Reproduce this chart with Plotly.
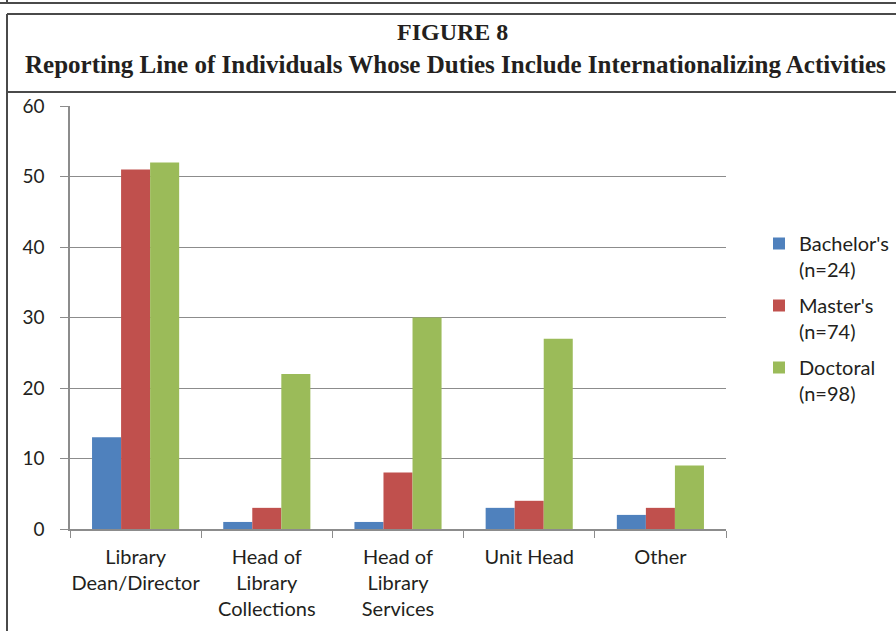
import plotly.graph_objects as go

categories = ["Library<br>Dean/Director", "Head of<br>Library<br>Collections",
              "Head of<br>Library<br>Services", "Unit Head", "Other"]
series_names = ["Bachelor's<br>(n=24)", "Master's<br>(n=74)", "Doctoral<br>(n=98)"]
bachelors = [13, 1, 1, 3, 2]
masters = [51, 3, 8, 4, 3]
doctoral = [52, 22, 30, 27, 9]
colors = ["#4F81BD", "#C0504D", "#9BBB59"]

W, H = 896, 631
# plot area in pixels
L, R, T, B = 70, 726, 106, 529


def px_x(x):
    return (x - L) / (R - L)


def px_y(y):
    return (B - y) / (B - T)


fig = go.Figure()
for i, (name, vals) in enumerate(zip(series_names, [bachelors, masters, doctoral])):
    fig.add_trace(go.Bar(x=categories, y=vals, name=name, marker_color=colors[i],
                         marker_line_width=0, legendgroup=str(i)))

# рамка вокруг рисунка
line = dict(color="#4a4a4a", width=2)
shapes = [
    dict(type="line", xref="paper", yref="paper", x0=px_x(0), x1=px_x(W), y0=px_y(3), y1=px_y(3), line=line),
    dict(type="line", xref="paper", yref="paper", x0=px_x(7), x1=px_x(7), y0=px_y(0), y1=px_y(3), line=line),
    dict(type="line", xref="paper", yref="paper", x0=px_x(7), x1=px_x(W), y0=px_y(14), y1=px_y(14), line=line),
    dict(type="line", xref="paper", yref="paper", x0=px_x(7), x1=px_x(7), y0=px_y(14), y1=px_y(H), line=line),
    dict(type="line", xref="paper", yref="paper", x0=px_x(7), x1=px_x(W), y0=px_y(92), y1=px_y(92), line=line),
]

annotations = [
    dict(text="<b>FIGURE 8</b>", x=px_x(452), y=px_y(32), xref="paper", yref="paper",
         showarrow=False, font=dict(family="Liberation Serif", size=24, color="#231f20"),
         xanchor="center", yanchor="middle"),
    dict(text="<b>Reporting Line of Individuals Whose Duties Include Internationalizing Activities</b>",
         x=px_x(455), y=px_y(65), xref="paper", yref="paper",
         showarrow=False, font=dict(family="Liberation Serif", size=25, color="#231f20"),
         xanchor="center", yanchor="middle"),
]

fig.update_layout(
    width=W, height=H,
    margin=dict(l=L, r=W - R, t=T, b=H - B, autoexpand=False),
    paper_bgcolor="white", plot_bgcolor="white",
    font=dict(family="Lato", size=19, color="#231f20"),
    barmode="group", bargap=0.336, bargroupgap=0,
    shapes=shapes, annotations=annotations,
    legend=dict(x=px_x(759), y=px_y(224), xanchor="left", yanchor="top",
                traceorder="grouped", tracegroupgap=7, valign="top",
                font=dict(family="Lato", size=20, color="#231f20")),
)
fig.update_yaxes(range=[0, 60], dtick=10, showgrid=True, gridcolor="#8c8c8c", gridwidth=1,
                 showline=True, linecolor="#8c8c8c", linewidth=1.5, automargin=False,
                 ticks="outside", ticklen=8, tickcolor="#8c8c8c", ticklabelstandoff=12,
                 zeroline=False)
fig.update_xaxes(showline=True, linecolor="#8c8c8c", linewidth=1.5, automargin=False,
                 tickangle=0, ticklabelstandoff=9, tickfont=dict(size=20),
                 ticks="outside", ticklen=7, tickcolor="#8c8c8c", tickson="boundaries")

# убрать отступ body, чтобы рисунок начинался с (0, 0)
fig.write_html("out.html", config={"displayModeBar": False},
               post_script="document.body.style.margin='0';")
